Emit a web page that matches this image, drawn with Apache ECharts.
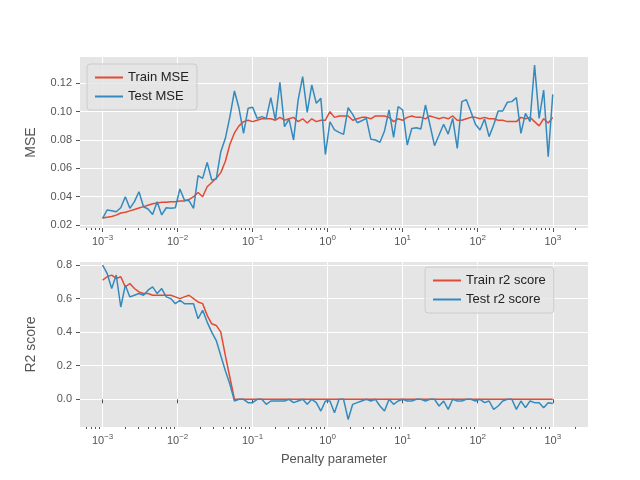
<!DOCTYPE html>
<html><head><meta charset="utf-8">
<script src="https://cdn.jsdelivr.net/npm/echarts@6/dist/echarts.min.js"></script>
<style>html,body{margin:0;background:#fff}#c{width:640px;height:480px}</style>
</head><body><div id="c"></div>
<script>
// penalty grid: 100 log-spaced values from 1e-3 to 1e3
var penalty = [];
for (var i = 0; i < 100; i++) penalty.push(Math.pow(10, -3 + 6 * i / 99));

var trainMse = [
  .025,.0255,.026,.027,.0285,.029,.030,.031,.032,.033,.034,.035,.0355,.036,.036,.0365,.0365,.037,.037,.038,.040,.043,.040,.047,.050,.053,.057,.065,.077,.085,
  .090,.093,.094,.093,.094,.095,.095,.095,.094,.096,.094,.095,.096,.093,.095,.092,.095,.093,.094,.094,.100,.096,.097,.097,.097,.094,.095,.096,.096,.095,
  .097,.097,.097,.096,.093,.095,.094,.096,.097,.096,.096,.095,.097,.096,.095,.096,.095,.097,.094,.094,.095,.096,.096,.095,.096,.095,.095,.094,.094,.093,
  .093,.093,.096,.095,.096,.093,.090,.095,.092,.096
];
var testMse = [
  .0247,.0306,.0301,.0294,.0322,.0400,.0318,.0365,.0435,.0329,.0313,.0275,.0365,.0271,.0322,.0318,.0322,.0454,.0376,.0372,
  .0318,.0548,.0529,.0642,.0518,.0525,.0718,.0812,.0965,.1146,.1024,.0847,.1024,.1031,.0953,.0965,.0953,.1099,.0941,.1207,
  .0894,.0948,.0800,.1082,.1247,.0995,.1188,.1059,.1094,.0699,.0929,.0871,.0854,.0840,.1028,.0981,.0922,.0936,.0953,.0805,
  .0800,.0784,.0864,.1012,.0819,.1035,.1012,.0765,.0882,.0887,.0878,.1047,.0906,.0760,.0835,.0911,.0842,.0953,.0741,.1071,
  .1085,.1000,.0911,.0871,.0948,.0824,.0906,.1005,.1005,.1066,.1071,.1099,.0847,.0988,.0929,.1329,.0953,.1153,.0682,.1122
];
var trainR2 = [
  .71,.73,.74,.72,.73,.67,.69,.66,.64,.63,.63,.62,.62,.62,.62,.62,.61,.60,.61,.62,.60,.58,.57,.50,.45,.44,.40,.26,.13,.00,
  0,0,0,0,0,0,0,0,0,0,0,0,0,0,0,0,0,0,0,0,0,0,0,0,0,0,0,0,0,0,
  0,0,0,0,0,0,0,0,0,0,0,0,0,0,0,0,0,0,0,0,0,0,0,0,0,0,0,0,0,0,
  0,0,0,0,0,0,0,0,0,0
];
var testR2 = [
  .80,.75,.66,.74,.55,.68,.61,.62,.63,.62,.65,.67,.63,.66,.61,.60,.57,.59,.57,.57,.57,.48,.53,.46,.40,.35,.26,.17,.09,-.01,
  0,0,-.02,-.02,0,0,-.03,-.01,-.01,-.01,-.01,0,-.02,-.01,0,-.03,0,-.02,-.07,-.01,-.01,-.08,0,0,-.12,-.03,-.02,-.01,0,-.01,
  0,-.04,-.07,0,-.03,-.01,0,-.01,-.01,0,0,-.01,0,0,-.04,-.01,-.06,0,-.01,-.01,0,0,-.01,0,-.02,-.01,-.06,-.04,-.01,0,
  0,-.06,-.01,-.05,-.01,-.02,-.02,-.05,-.02,-.025
];
var decades = [0.001, 0.01, 0.1, 1, 10, 100, 1000];
var minors = [];
decades.forEach(function (d) { for (var k = 2; k < 10; k++) if (d * k < 2900) minors.push(d * k); });
minors.unshift(0.0006, 0.0007, 0.0008, 0.0009);
var mseTicks = [0.02, 0.04, 0.06, 0.08, 0.10, 0.12];
var r2Ticks = [0.0, 0.2, 0.4, 0.6, 0.8];

var red = '#E24A33', blue = '#348ABD', txt = '#555';
var supMap = {'-3': '−3', '-2': '−2', '-1': '−1', '0': '0', '1': '1', '2': '2', '3': '3'};
function xLab(v) { return '10{s|' + supMap[Math.round(Math.log10(v))] + '}'; }
var xRich = {s: {fontSize: 8, verticalAlign: 'top', padding: [0, 0, 8, 0], color: txt}};

function xAxes(gi, showName) {
  return [{
    type: 'log', gridIndex: gi, min: 0.0005, max: 2950, position: 'bottom',
    axisLine: {show: false},
    axisTick: {customValues: decades, length: 4, lineStyle: {color: txt}},
    splitLine: {show: true, lineStyle: {color: '#fff', width: 1}},
    axisLabel: {customValues: decades, formatter: xLab, rich: xRich, color: txt, fontSize: 11, margin: 6},
    name: showName ? 'Penalty parameter' : '', nameLocation: 'middle', nameGap: 26,
    nameTextStyle: {color: txt, fontSize: 13}
  }, {
    type: 'log', gridIndex: gi, min: 0.0005, max: 2950, position: 'bottom',
    axisLine: {show: false}, splitLine: {show: false}, axisLabel: {show: false},
    axisTick: {customValues: minors, length: 2, lineStyle: {color: txt}}
  }];
}
function yAxis(gi, mn, mx, ticks, name, fmt) {
  return {
    type: 'value', gridIndex: gi, min: mn, max: mx,
    axisLine: {show: false},
    axisTick: {show: true, customValues: ticks, length: 4, lineStyle: {color: txt}},
    splitLine: {show: true, lineStyle: {color: '#fff'}},
    axisLabel: {customValues: ticks, color: txt, fontSize: 11, formatter: fmt},
    name: name, nameLocation: 'middle', nameGap: 42, nameTextStyle: {color: txt, fontSize: 14}
  };
}
function pts(arr) { return arr.map(function (v, i) { return [penalty[i], v]; }); }
function line(name, data, color, xi, yi) {
  return {name: name, type: 'line', data: pts(data), xAxisIndex: xi, yAxisIndex: yi,
    showSymbol: false, lineStyle: {color: color, width: 1.5}, itemStyle: {color: color}, animation: false};
}
var legendBase = {orient: 'vertical', backgroundColor: 'rgba(229,229,229,0.8)', borderColor: '#ccc',
  borderWidth: 1, borderRadius: 3, padding: [7, 8], itemGap: 6, itemWidth: 28, itemHeight: 2,
  textStyle: {color: '#222', fontSize: 13}, icon: 'rect'};

var chart = echarts.init(document.getElementById('c'));
chart.setOption({
  backgroundColor: '#fff',
  grid: [
    {left: 80, right: 52, top: 57, height: 171, backgroundColor: '#E5E5E5', show: true, borderWidth: 0},
    {left: 80, right: 52, top: 262, height: 165, backgroundColor: '#E5E5E5', show: true, borderWidth: 0}
  ],
  legend: [
    Object.assign({data: ['Train MSE', 'Test MSE'], left: 87, top: 64}, legendBase),
    Object.assign({data: ['Train r2 score', 'Test r2 score'], left: 425, top: 267}, legendBase)
  ],
  xAxis: xAxes(0, false).concat(xAxes(1, true)),
  yAxis: [
    yAxis(0, 0.0179, 0.1386, mseTicks, 'MSE', function (v) { return v.toFixed(2); }),
    yAxis(1, -0.165, 0.818, r2Ticks, 'R2 score', function (v) { return v.toFixed(1); })
  ],
  series: [
    line('Train MSE', trainMse, red, 0, 0),
    line('Test MSE', testMse, blue, 0, 0),
    line('Train r2 score', trainR2, red, 2, 1),
    line('Test r2 score', testR2, blue, 2, 1)
  ]
});
</script></body></html>
